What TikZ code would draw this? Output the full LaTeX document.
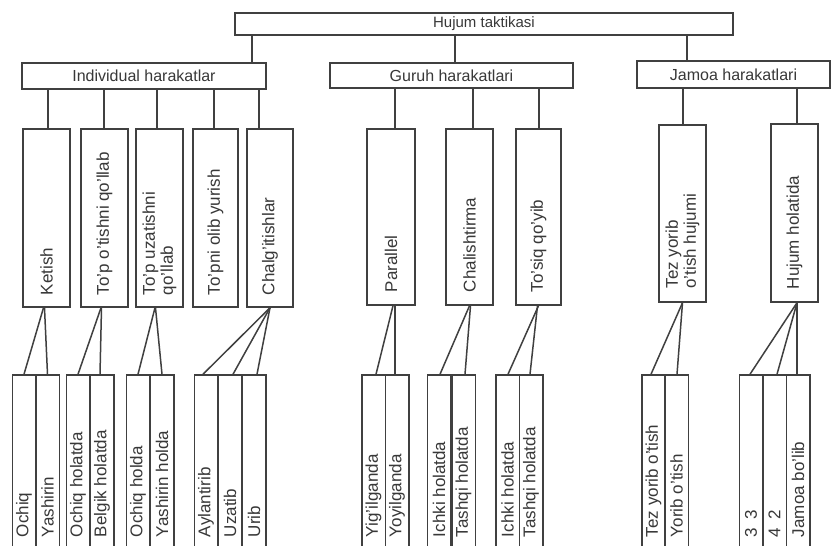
\documentclass[tikz,border=0pt]{standalone}
\usepackage{fontspec}
\setmainfont{Liberation Sans}
\usepackage{graphicx}
\definecolor{ln}{gray}{0.25}
\definecolor{tx}{gray}{0.22}
\newcommand{\vtxt}[2]{\rotatebox{90}{\parbox[c]{#1}{\raggedright #2}}}
\tikzset{
  hbox/.style={draw=ln, line width=1.5pt, inner sep=0pt, text=tx, font=\fontsize{16}{17}\selectfont, fill=white},
  midbox/.style={hbox, minimum width=47pt, font=\fontsize{17}{18}\selectfont},
  colbox/.style={hbox, minimum width=23.5pt, minimum height=181pt, font=\fontsize{17}{18}\selectfont},
  conn/.style={draw=ln, line width=1.5pt}
}
\begin{document}
\begin{tikzpicture}[x=1pt,y=-1pt]
\useasboundingbox (0,0) rectangle (833,546);
\clip (0,0) rectangle (833,546);
\fill[white] (0,0) rectangle (833,546);

% level 1 and 2
\node[hbox, minimum width=498pt, minimum height=22pt, font=\fontsize{15}{17}\selectfont] (top) at (484,24) {Hujum taktikasi};
\node[hbox, minimum width=244pt, minimum height=26pt] (ind) at (144,76) {Individual harakatlar};
\node[hbox, minimum width=243pt, minimum height=25pt] (gur) at (451.5,75.5) {Guruh harakatlari};
\node[hbox, minimum width=193pt, minimum height=27pt] (jam) at (733.5,74.5) {Jamoa harakatlari};

% level 3
\node[midbox, minimum height=178pt] (ket) at (46.5,218) {\vtxt{154pt}{Ketish}};
\node[midbox, minimum height=178pt] (tpo) at (104.5,218) {\vtxt{154pt}{To'p o'tishni qo'llab}};
\node[midbox, minimum height=178pt] (tpu) at (159.5,218) {\vtxt{154pt}{To'p uzatishni\\qo'llab}};
\node[midbox, minimum width=45pt, minimum height=178pt] (tpn) at (215.5,218) {\vtxt{154pt}{To'pni olib yurish}};
\node[midbox, minimum width=46pt, minimum height=178pt] (chl) at (270,218) {\vtxt{154pt}{Chalg'itishlar}};
\node[midbox, minimum width=48pt, minimum height=176pt] (par) at (391,217) {\vtxt{150pt}{Parallel}};
\node[midbox, minimum height=176pt] (chs) at (469.5,217) {\vtxt{150pt}{Chalishtirma}};
\node[midbox, minimum width=45pt, minimum height=176pt] (tos) at (538.5,217) {\vtxt{150pt}{To'siq qo'yib}};
\node[midbox, minimum height=177pt] (tez) at (682.5,213.5) {\vtxt{150pt}{Tez yorib\\o'tish hujumi}};
\node[midbox, minimum height=178pt] (huj) at (794.5,213) {\vtxt{152pt}{Hujum holatida}};

% level 4 columns
\node[colbox] (ochA) at (24,465.5) {\vtxt{143pt}{Ochiq}};
\node[colbox] (yasA) at (47.5,465.5) {\vtxt{143pt}{Yashirin}};
\node[colbox] (ochB) at (78,465.5) {\vtxt{143pt}{Ochiq holatda}};
\node[colbox] (bel) at (102,465.5) {\vtxt{143pt}{Belgik holatda}};
\node[colbox] (ochC) at (138,465.5) {\vtxt{143pt}{Ochiq holda}};
\node[colbox] (yasC) at (162,465.5) {\vtxt{143pt}{Yashirin holda}};
\node[colbox] (ayl) at (206,465.5) {\vtxt{143pt}{Aylantirib}};
\node[colbox] (uzt) at (230,465.5) {\vtxt{143pt}{Uzatib}};
\node[colbox] (uri) at (254,465.5) {\vtxt{143pt}{Urib}};
\node[colbox] (yig) at (373.5,465.5) {\vtxt{143pt}{Yig'ilganda}};
\node[colbox] (yoy) at (397,465.5) {\vtxt{143pt}{Yoyilganda}};
\node[colbox] (ichA) at (439,465.5) {\vtxt{143pt}{Ichki holatda}};
\node[colbox] (tasA) at (463.5,465.5) {\vtxt{143pt}{Tashqi holatda}};
\node[colbox] (ichB) at (507.5,465.5) {\vtxt{143pt}{Ichki holatda}};
\node[colbox] (tasB) at (531,465.5) {\vtxt{143pt}{Tashqi holatda}};
\node[colbox] (tzb) at (653.5,465.5) {\vtxt{143pt}{Tez yorib o'tish}};
\node[colbox] (yrb) at (676.5,465.5) {\vtxt{143pt}{Yorib o'tish}};
\node[colbox] (t33) at (751,465.5) {\vtxt{143pt}{3\enspace 3}};
\node[colbox] (t42) at (774.5,465.5) {\vtxt{143pt}{4\enspace 2}};
\node[colbox] (jbo) at (798,465.5) {\vtxt{143pt}{Jamoa bo'lib}};

% connectors level 1 -> 2
\draw[conn] ([xshift=-232pt]top.south) -- ([xshift=108pt]ind.north);
\draw[conn] ([xshift=-29pt]top.south) -- ([xshift=3.5pt]gur.north);
\draw[conn] ([xshift=203pt]top.south) -- ([xshift=-46.5pt]jam.north);

% connectors level 2 -> 3
\draw[conn] ([xshift=-96pt]ind.south) -- ([xshift=1.5pt]ket.north);
\draw[conn] ([xshift=-40pt]ind.south) -- ([xshift=-0.5pt]tpo.north);
\draw[conn] ([xshift=13pt]ind.south) -- ([xshift=-2.5pt]tpu.north);
\draw[conn] ([xshift=70pt]ind.south) -- ([xshift=-1.5pt]tpn.north);
\draw[conn] ([xshift=115pt]ind.south) -- ([xshift=-11pt]chl.north);
\draw[conn] ([xshift=-56.5pt]gur.south) -- ([xshift=4pt]par.north);
\draw[conn] ([xshift=21.5pt]gur.south) -- ([xshift=3.5pt]chs.north);
\draw[conn] ([xshift=87.5pt]gur.south) -- ([xshift=0.5pt]tos.north);
\draw[conn] ([xshift=-50.5pt]jam.south) -- ([xshift=0.5pt]tez.north);
\draw[conn] ([xshift=63.5pt]jam.south) -- ([xshift=2.5pt]huj.north);

% connectors level 3 -> 4
\draw[conn] ([xshift=-3pt]ket.south) -- (ochA.north);
\draw[conn] ([xshift=-2pt]ket.south) -- (yasA.north);
\draw[conn] ([xshift=-3.5pt]tpo.south) -- (ochB.north);
\draw[conn] ([xshift=-3pt]tpo.south) -- ([xshift=-2pt]bel.north);
\draw[conn] ([xshift=-4.5pt]tpu.south) -- (ochC.north);
\draw[conn] ([xshift=-4pt]tpu.south) -- (yasC.north);
\draw[conn] (chl.south) -- ([xshift=-3pt]ayl.north);
\draw[conn] (chl.south) -- ([xshift=3pt]uzt.north);
\draw[conn] (chl.south) -- ([xshift=3pt]uri.north);
\draw[conn] ([xshift=2pt]par.south) -- ([xshift=2.5pt]yig.north);
\draw[conn] ([xshift=4pt]par.south) -- ([xshift=-2pt]yoy.north);
\draw[conn] (chs.south) -- ([xshift=1pt]ichA.north);
\draw[conn] ([xshift=1pt]chs.south) -- ([xshift=1.5pt]tasA.north);
\draw[conn] (tos.south) -- ([xshift=0.5pt]ichB.north);
\draw[conn] ([xshift=-1pt]tos.south) -- ([xshift=-1pt]tasB.north);
\draw[conn] (tez.south) -- ([xshift=-2.5pt]tzb.north);
\draw[conn] (tez.south) -- ([xshift=0.5pt]yrb.north);
\draw[conn] ([xshift=2.5pt]huj.south) -- ([xshift=-1pt]t33.north);
\draw[conn] ([xshift=2.5pt]huj.south) -- ([xshift=2.5pt]t42.north);
\draw[conn] ([xshift=2.5pt]huj.south) -- ([xshift=-1pt]jbo.north);
\end{tikzpicture}
\end{document}
